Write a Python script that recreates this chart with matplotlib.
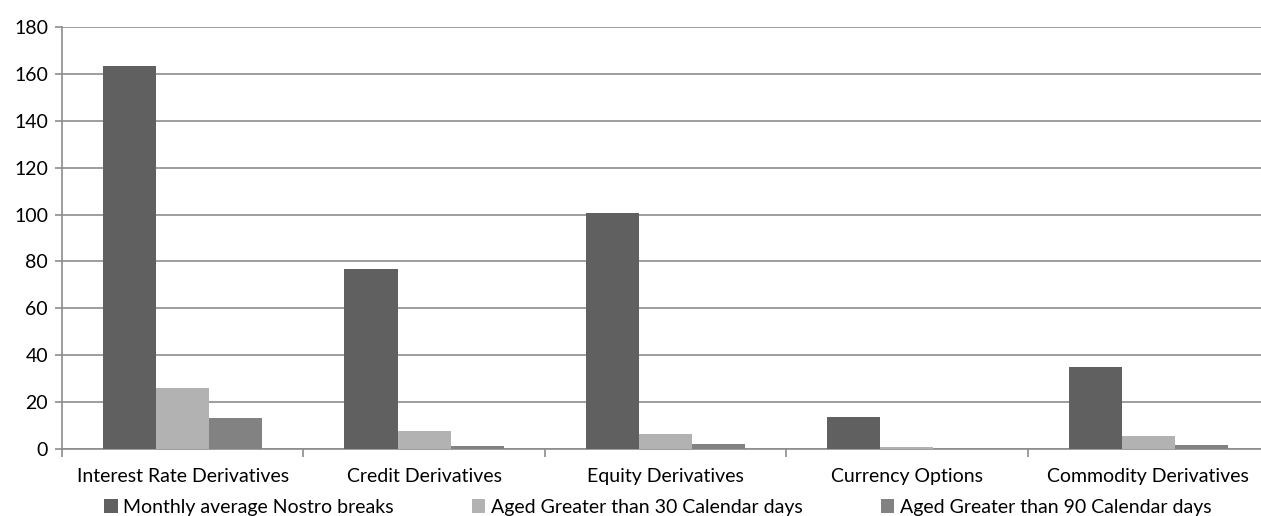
import numpy as np
import matplotlib.pyplot as plt

categories = ['Interest Rate Derivatives', 'Credit Derivatives', 'Equity Derivatives',
              'Currency Options', 'Commodity Derivatives']
series_names = ['Monthly average Nostro breaks', 'Aged Greater than 30 Calendar days',
                'Aged Greater than 90 Calendar days']
monthly_avg = [163.5, 76.8, 100.5, 13.7, 35.0]
aged_30 = [26.0, 7.5, 6.5, 1.0, 5.4]
aged_90 = [13.2, 1.2, 2.0, 0.0, 1.8]
colors = ['#606060', '#b2b2b2', '#828282']

plt.rcParams['font.family'] = ['Lato', 'DejaVu Sans']

fig = plt.figure(figsize=(12.61, 5.16), dpi=100)
ax = fig.add_axes([62 / 1261, 1 - 449 / 516, (1269 - 62) / 1261, (449 - 27) / 516])

x = np.arange(len(categories))
w = 0.22
for i, (vals, name) in enumerate(zip([monthly_avg, aged_30, aged_90], series_names)):
    ax.bar(x + (i - 1) * w, vals, w, color=colors[i], label=name, zorder=3)

ax.set_xlim(-0.5, len(categories) - 0.5)
ax.set_ylim(0, 180)
ax.set_yticks(range(0, 181, 20))
ax.yaxis.grid(True, color='#8c8c8c', linewidth=1.2, zorder=0)

ax.set_xticks(x)
ax.set_xticklabels(categories, fontsize=14)
ax.set_xticks(np.arange(-0.5, len(categories), 1), minor=True)
ax.tick_params(axis='x', which='major', length=0, pad=14)
ax.tick_params(axis='x', which='minor', length=6, color='#8c8c8c', width=1.2)
ax.tick_params(axis='y', length=5, color='#8c8c8c', width=1.2, labelsize=14, pad=5)

for s in ['top', 'right']:
    ax.spines[s].set_visible(False)
for s in ['left', 'bottom']:
    ax.spines[s].set_color('#8c8c8c')
    ax.spines[s].set_linewidth(1.2)

fig.legend(loc='lower left', bbox_to_anchor=(104 / 1261, 0.0), ncol=3, frameon=False,
           fontsize=14, handlelength=0.7, handleheight=0.7, handletextpad=0.3,
           columnspacing=4.0, borderpad=0, borderaxespad=0)

fig.savefig('out.png', dpi=100)
